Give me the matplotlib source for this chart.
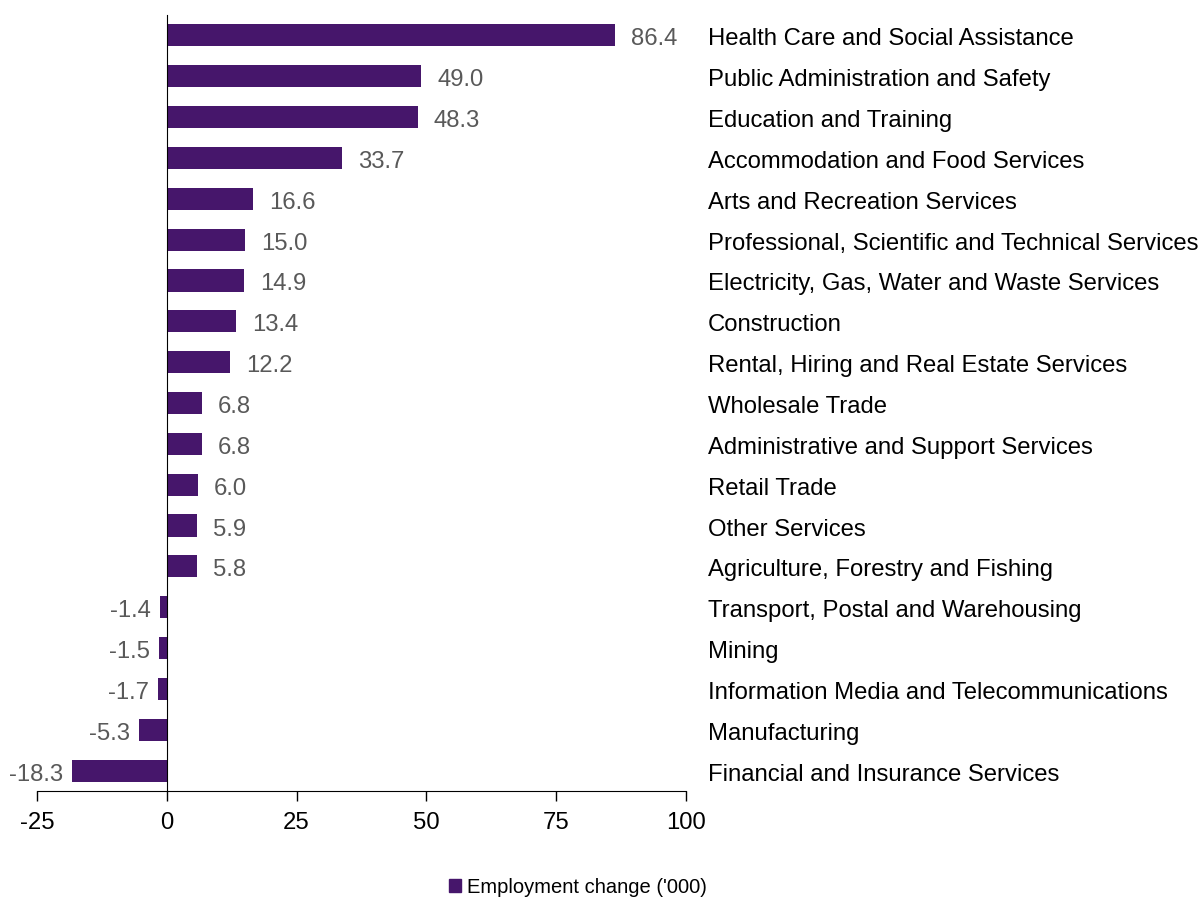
import matplotlib
matplotlib.use("Agg")
import matplotlib.pyplot as plt
from matplotlib.transforms import blended_transform_factory
from matplotlib.patches import Patch

plt.rcParams['font.family'] = ['Liberation Sans', 'DejaVu Sans']

categories = [
    "Health Care and Social Assistance",
    "Public Administration and Safety",
    "Education and Training",
    "Accommodation and Food Services",
    "Arts and Recreation Services",
    "Professional, Scientific and Technical Services",
    "Electricity, Gas, Water and Waste Services",
    "Construction",
    "Rental, Hiring and Real Estate Services",
    "Wholesale Trade",
    "Administrative and Support Services",
    "Retail Trade",
    "Other Services",
    "Agriculture, Forestry and Fishing",
    "Transport, Postal and Warehousing",
    "Mining",
    "Information Media and Telecommunications",
    "Manufacturing",
    "Financial and Insurance Services",
]
values = [86.4, 49.0, 48.3, 33.7, 16.6, 15.0, 14.9, 13.4, 12.2, 6.8, 6.8, 6.0, 5.9, 5.8,
          -1.4, -1.5, -1.7, -5.3, -18.3]
xticks = [-25, 0, 25, 50, 75, 100]
series_name = "Employment change ('000)"

color = '#46166B'
FS = 17.2
W, H = 1204, 897
fig = plt.figure(figsize=(W / 100, H / 100), dpi=100)
ax = fig.add_axes([37 / W, 1 - 791 / H, (686 - 37) / W, (791 - 15) / H])

pos = list(range(len(categories)))
ax.barh(pos, values, height=0.54, color=color)
ax.set_xlim(-25, 100)
ax.set_ylim(len(categories) - 0.5, -0.5)
ax.set_xticks(xticks)
ax.set_xticklabels([str(t) for t in xticks], fontsize=FS)
ax.set_yticks([])
for s in ['top', 'right']:
    ax.spines[s].set_visible(False)
ax.spines['left'].set_position(('data', 0))
ax.spines['left'].set_color('black')
ax.spines['bottom'].set_color('black')
ax.tick_params(axis='x', direction='out', length=7, width=1, pad=8, colors='black')

for p, v in zip(pos, values):
    if v >= 0:
        ax.annotate(f"{v:.1f}", (v, p), xytext=(16, -4), textcoords='offset pixels',
                    ha='left', va='center', fontsize=FS, color='#595959')
    else:
        ax.annotate(f"{v:.1f}", (v, p), xytext=(-9, -4), textcoords='offset pixels',
                    ha='right', va='center', fontsize=FS, color='#595959')

tr = blended_transform_factory(ax.transAxes, ax.transData)
for p, c in zip(pos, categories):
    ax.annotate(c, (0, p), xycoords=tr, xytext=(708 - 37, -4), textcoords='offset pixels',
                ha='left', va='center', fontsize=FS, color='black')

fig.legend(handles=[Patch(color=color)], labels=[series_name], loc='center',
           bbox_to_anchor=(578 / W, 1 - 887 / H), frameon=False, fontsize=14.5,
           handlelength=0.6, handleheight=0.6, handletextpad=0.3)

fig.savefig('out.png', dpi=100)
